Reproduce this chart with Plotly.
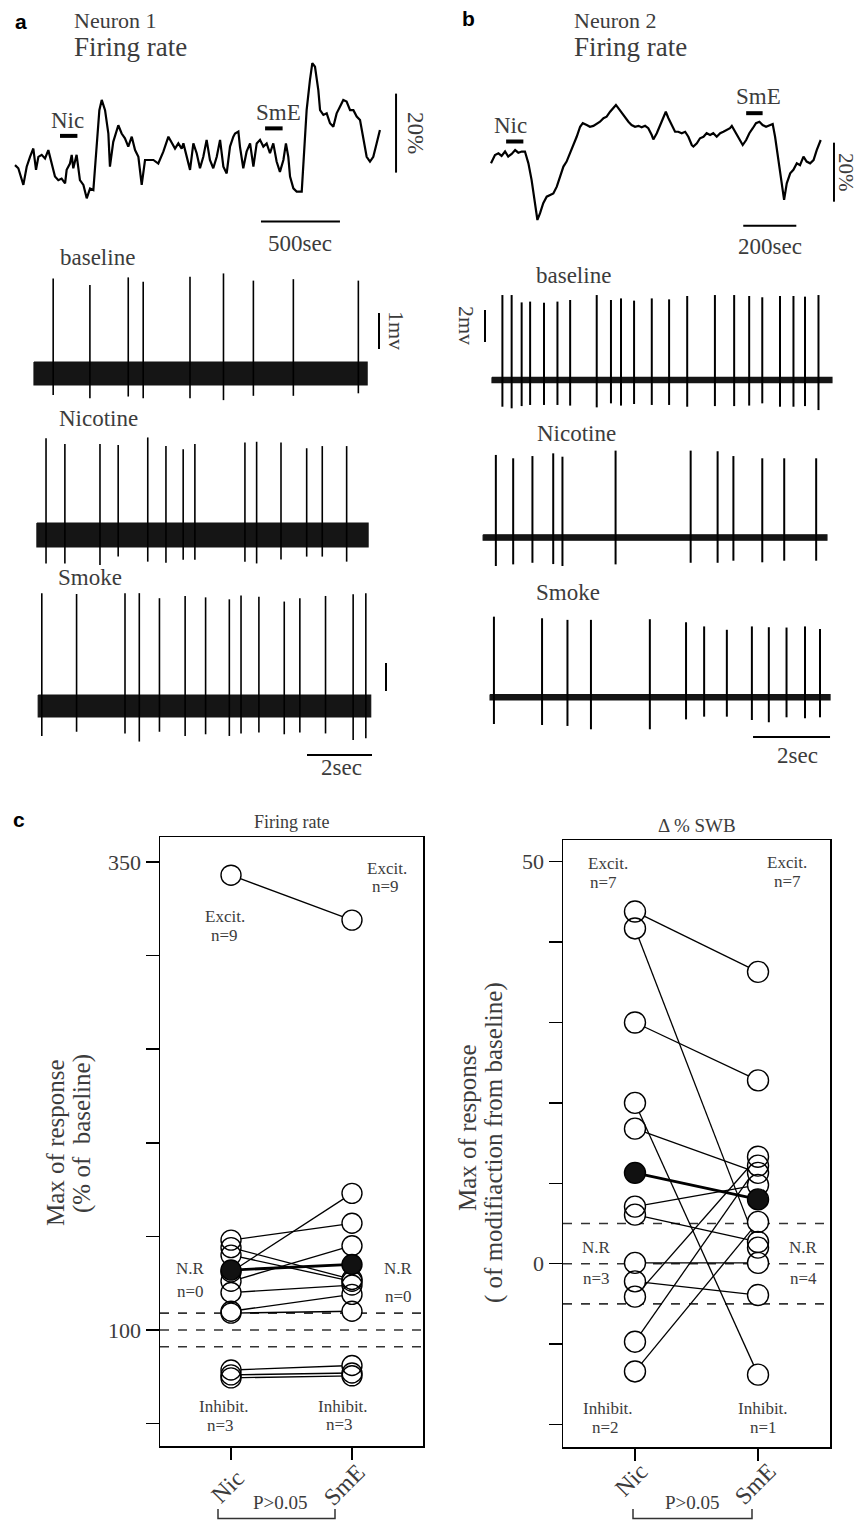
import plotly.graph_objects as go

W, H = 860, 1520
SERIF = "Liberation Serif, Times New Roman, serif"
SANS = "Liberation Sans, Arial, sans-serif"
INK = "#1a1a1a"
GREY = "#3c3c3c"

# ---------------- DATA ----------------
# Panel a: Neuron 1 firing rate (time in s, change in % of baseline)
n1_t = [0, 21, 53, 74, 95, 116, 133, 148, 169, 190,
        211, 232, 253, 274, 295, 317, 327, 348, 359, 369,
        390, 411, 433, 454, 475, 496, 517, 534, 549, 570,
        591, 601, 622, 654, 675, 696, 717, 739, 760, 781,
        802, 823, 844, 876, 907, 939, 971, 992, 1013, 1034,
        1055, 1066, 1087, 1108, 1129, 1150, 1171, 1192, 1213, 1234,
        1255, 1277, 1298, 1319, 1340, 1361, 1382, 1393, 1414, 1424,
        1445, 1466, 1488, 1509, 1530, 1551, 1572, 1593, 1614, 1635,
        1656, 1677, 1699, 1715, 1730, 1741, 1762, 1783, 1815, 1825,
        1846, 1867, 1882, 1899, 1920, 1931, 1952, 1973, 1994, 2015,
        2026, 2036, 2057, 2078, 2099, 2121, 2142, 2163, 2184, 2205,
        2226, 2247, 2268, 2289, 2310]
n1_v = [0.4, -0.4, -4.6, 0, 2.5, 4.6, -0.8, 2.5, 3.0, 2.1,
        4.2, 0.8, -2.5, -3.4, -3.0, -4.2, -0.8, 0.8, 3.0, -0.4,
        3.0, -3.4, -4.6, -8.0, -5.5, -5.9, 5.9, 14.3, 16.9, 14.3,
        8.4, 0, 6.3, 10.5, 8.4, 7.2, 5.1, 7.6, 4.2, 2.5,
        -4.6, 1.7, 1.7, 1.7, 0.8, 3.8, 7.6, 5.9, 4.6, 5.9,
        4.6, 5.9, 2.5, -0.8, 5.9, 3.4, -0.4, 2.5, 6.8, 1.7,
        -0.4, 2.5, 6.8, 0, -1.7, 5.1, 7.6, 8.4, 8.9, 5.1,
        -0.4, 3.8, 5.9, 0, 5.9, 6.8, 5.1, 5.9, 3.4, 5.9,
        1.3, -1.3, 1.7, 5.9, 2.5, -2.5, -5.5, -6.3, -6.3, 0,
        14.3, 21.9, 26.2, 25.3, 19.4, 14.3, 13.1, 13.5, 11.0, 10.1,
        12.2, 13.5, 15.2, 16.9, 16.5, 14.3, 14.3, 12.7, 11.8, 6.8,
        2.5, 1.3, 2.5, 5.9, 9.3]
n1_stim = {"Nic": (285, 395), "SmE": (1583, 1694)}

# Panel b: Neuron 2 firing rate
n2_t = [0, 15, 28, 40, 53, 65, 78, 91, 103, 116,
        128, 141, 153, 166, 175, 185, 197, 210, 222, 235,
        248, 260, 273, 285, 298, 310, 323, 336, 346, 361,
        373, 386, 398, 411, 424, 436, 449, 461, 471, 480,
        493, 505, 518, 530, 543, 556, 568, 581, 593, 606,
        612, 625, 637, 650, 659, 669, 681, 694, 706, 719,
        732, 744, 757, 763, 776, 788, 801, 813, 826, 838,
        851, 864, 876, 889, 901, 908, 920, 933, 949, 962,
        974, 987, 999, 1012, 1024, 1037, 1050, 1062, 1071, 1084,
        1096, 1105, 1115, 1128, 1140, 1153, 1165, 1178, 1190, 1203,
        1216, 1228, 1243]
n2_v = [-3.4, -0.6, 0, -0.9, 0.6, -1.1, -0.2, 1.1, 0.2, 0.6,
        0.6, -3.4, -9.0, -16.9, -22.6, -20.3, -16.9, -14.7, -14.1, -13.6,
        -11.3, -7.9, -4.5, -2.8, 0, 2.3, 5.6, 9.0, 10.2, 9.6,
        9.0, 9.3, 9.9, 10.7, 11.9, 12.4, 14.1, 15.3, 16.4, 15.3,
        13.6, 12.4, 10.7, 9.6, 9.0, 9.3, 8.8, 9.3, 8.5, 6.2,
        4.7, 6.8, 9.6, 12.4, 14.1, 11.9, 9.6, 7.3, 7.3, 6.8,
        7.3, 5.6, 2.8, 2.3, 3.4, 5.1, 5.6, 6.8, 6.2, 6.8,
        5.6, 6.8, 7.3, 7.9, 8.5, 9.3, 7.3, 5.1, 2.8, 4.5,
        6.8, 8.5, 10.2, 10.7, 9.6, 9.0, 9.6, 9.9, 5.6, -2.3,
        -11.3, -15.8, -10.2, -6.8, -5.6, -3.4, -4.0, -1.1, -2.8, -3.4,
        -2.3, 1.1, 4.5]
n2_stim = {"Nic": (57, 122), "SmE": (962, 1024)}

# Unit traces: spike times (s), spike peak (mV), spike trough (mV)
a_base_t = [0.59, 1.72, 2.90, 3.36, 4.80, 5.83, 6.75, 7.98, 9.98]
a_base_up = [2.64, 2.46, 2.67, 2.55, 2.69, 2.78, 2.58, 2.62, 2.58]
a_base_dn = [-0.60, -0.69, -0.64, -0.69, -0.69, -0.74, -0.62, -0.62, -0.55]

a_nic_t = [0.37, 0.95, 2.03, 2.59, 3.50, 4.06, 4.59, 4.95, 6.49, 6.85, 7.60, 8.39, 8.87, 9.62]
a_nic_up = [2.69, 2.53, 2.53, 2.50, 2.71, 2.47, 2.38, 2.53, 2.57, 2.59, 2.57, 2.41, 2.47, 2.47]
a_nic_dn = [-0.79, -0.79, -0.83, -0.60, -0.74, -0.77, -0.69, -0.69, -0.74, -0.79, -0.68, -0.60, -0.60, -0.74]

a_smk_t = [0.24, 1.31, 2.80, 3.24, 3.86, 4.65, 5.28, 6.01, 6.37, 6.92, 7.70, 8.18, 8.97, 9.82, 10.21]
a_smk_up = [4.03, 4.00, 4.03, 4.03, 3.85, 3.93, 3.88, 3.81, 3.95, 3.90, 3.73, 3.85, 3.93, 3.99, 4.03]
a_smk_dn = [-1.07, -0.92, -0.98, -1.27, -0.92, -1.07, -1.01, -1.07, -0.98, -0.95, -1.01, -0.95, -0.98, -1.21, -1.15]

b_base_t = [0.27, 0.51, 0.77, 0.99, 1.35, 1.70, 2.03, 2.72, 3.09, 3.35, 3.69, 4.15, 4.60, 5.07,
            5.79, 6.29, 6.68, 7.02, 7.48, 7.83, 8.13, 8.48]
b_base_up = [5.31, 5.31, 4.85, 4.90, 4.83, 4.90, 5.00, 5.31, 5.00, 5.10, 4.96, 5.10, 5.04, 5.25,
             5.31, 5.31, 5.25, 5.17, 5.25, 5.25, 5.21, 5.31]
b_base_dn = [-1.67, -1.77, -1.63, -1.56, -1.56, -1.56, -1.60, -1.71, -1.46, -1.60, -1.50, -1.56, -1.56, -1.67,
             -1.63, -1.63, -1.60, -1.46, -1.67, -1.67, -1.63, -1.88]

b_nic_t = [0.10, 0.55, 1.05, 1.59, 1.83, 3.21, 5.16, 5.86, 6.27, 7.02, 7.59, 8.42]
b_nic_up = [5.16, 4.95, 5.09, 5.26, 5.05, 5.43, 5.43, 5.39, 5.09, 4.95, 4.95, 4.95]
b_nic_dn = [-1.78, -1.68, -1.58, -1.66, -1.78, -1.68, -1.58, -1.58, -1.45, -1.55, -1.45, -1.45]

b_smk_t = [0.05, 1.30, 1.96, 2.57, 4.10, 5.04, 5.51, 6.10, 6.75, 7.19, 7.65, 8.13, 8.52]
b_smk_up = [5.04, 4.94, 4.84, 4.84, 4.88, 4.69, 4.43, 4.22, 4.43, 4.38, 4.36, 4.43, 4.27]
b_smk_dn = [-1.67, -1.73, -1.79, -2.00, -2.00, -1.38, -1.21, -1.21, -1.42, -1.56, -1.25, -1.31, -1.25]

# recording windows (s) and noise half-amplitude (mV)
a_windows = [(0.0, 10.25), (0.09, 10.28), (0.13, 10.36)]
a_noise = [0.32, 0.33, 0.39]
b_windows = [(0.0, 8.83), (-0.23, 8.70), (-0.05, 8.78)]
b_noise = [0.17, 0.17, 0.17]

# Panel c: max of response, firing rate (% of baseline)
fr_nic = [343, 148, 144, 140, 131, 126, 120, 110, 109, 78.6, 76, 74.4]
fr_sme = [319, 157, 127, 126, 173, 145, 124, 119, 110, 81, 77, 75.5]
fr_mean = [132, 135]
fr_thresh = [91, 100, 109]

# Panel c: max of response, delta % SWB
swb_nic = [43.8, 41.7, 30.0, 20.0, 16.8, 7.1, 6.1, 0.1, -2.2, -4.1, -9.7, -13.4]
swb_sme = [36.3, 2.0, 22.8, -13.8, 11.3, 9.8, 2.7, 0.1, -3.9, 13.3, 12.2, 5.2]
swb_mean = [11.3, 8.0]
swb_thresh = [-5, 0, 5]

conditions = ["Nic", "SmE"]

# ---------------- FIGURE ----------------
fig = go.Figure()
layout = {}


def axname(n):
    return "" if n == 1 else str(n)


def setup_axes(n, xp, yp, xmap, ymap):
    px0, v0, k = xmap
    py0, w0, m = ymap
    xr = [v0 + (xp[0] - px0) / k, v0 + (xp[1] - px0) / k]
    yr = [w0 - (yp[1] - py0) / m, w0 + (py0 - yp[0]) / m]
    layout["xaxis" + axname(n)] = dict(domain=[xp[0] / W, xp[1] / W], range=xr,
                                       visible=False, anchor="y" + axname(n))
    layout["yaxis" + axname(n)] = dict(domain=[1 - yp[1] / H, 1 - yp[0] / H], range=yr,
                                       visible=False, anchor="x" + axname(n))


def refs(n):
    return "x" + axname(n), "y" + axname(n)


shapes = []
annos = []


def txt(s, px, py, size, color=INK, angle=0, family=SERIF, xanchor="center", bold=False):
    if bold:
        s = "<b>" + s + "</b>"
    annos.append(dict(text=s, x=px / W, y=1 - py / H, xref="paper", yref="paper",
                      showarrow=False, font=dict(size=size, color=color, family=family),
                      textangle=angle, xanchor=xanchor, yanchor="middle", borderpad=0))


def seg(n, x0, y0, x1, y1, width=2, color="black", dash=None):
    xr, yr = refs(n)
    ln = dict(color=color, width=width)
    if dash:
        ln["dash"] = dash
    shapes.append(dict(type="line", xref=xr, yref=yr, x0=x0, y0=y0, x1=x1, y1=y1, line=ln))


# --- firing-rate traces ---
setup_axes(1, (0, 430), (50, 262), (15, 0, 1 / 6.33), (166.7, 0, 3.95))
setup_axes(2, (430, 860), (50, 262), (491, 0, 1 / 3.77), (153.3, 0, 2.95))
for n, t, v in [(1, n1_t, n1_v), (2, n2_t, n2_v)]:
    xr, yr = refs(n)
    fig.add_trace(go.Scatter(x=t, y=v, mode="lines", line=dict(color="black", width=2.2),
                             xaxis=xr, yaxis=yr, hoverinfo="skip"))

# stimulus bars
stim_y1 = {"Nic": 7.8, "SmE": 9.7}
stim_y2 = {"Nic": 4.0, "SmE": 13.6}
for k, (t0, t1) in n1_stim.items():
    seg(1, t0, stim_y1[k], t1, stim_y1[k], width=4)
for k, (t0, t1) in n2_stim.items():
    seg(2, t0, stim_y2[k], t1, stim_y2[k], width=4)

SCALE_PCT = 20
SCALE_T1, SCALE_T2 = 500, 200
# scale bars (rate)
seg(1, 2412, -1.5, 2412, -1.5 + SCALE_PCT, width=2)
seg(1, 1557, -13.9, 1557 + SCALE_T1, -13.9, width=2)
seg(2, 1293, -16.4, 1293, -16.4 + SCALE_PCT, width=2)
seg(2, 951, -24.6, 951 + SCALE_T2, -24.6, width=2)

# --- unit traces ---
setup_axes(3, (0, 430), (262, 410), (34, 0, 32.5), (373.5, 0, 36))
setup_axes(4, (0, 430), (410, 570), (34, 0, 32.5), (535, 0, 36))
setup_axes(5, (0, 430), (570, 780), (34, 0, 32.5), (706, 0, 28))
setup_axes(6, (430, 860), (262, 420), (492, 0, 38.5), (380, 0, 16))
setup_axes(7, (430, 860), (420, 580), (492, 0, 38.5), (537.5, 0, 16))
setup_axes(8, (430, 860), (580, 780), (492, 0, 38.5), (697.3, 0, 16))

units = [
    (3, a_base_t, a_base_up, a_base_dn, a_windows[0], a_noise[0], 1.6),
    (4, a_nic_t, a_nic_up, a_nic_dn, a_windows[1], a_noise[1], 1.6),
    (5, a_smk_t, a_smk_up, a_smk_dn, a_windows[2], a_noise[2], 1.6),
    (6, b_base_t, b_base_up, b_base_dn, b_windows[0], b_noise[0], 2.0),
    (7, b_nic_t, b_nic_up, b_nic_dn, b_windows[1], b_noise[1], 2.0),
    (8, b_smk_t, b_smk_up, b_smk_dn, b_windows[2], b_noise[2], 2.0),
]
for n, ts, ups, dns, (w0, w1), nz, lw in units:
    xr, yr = refs(n)
    fig.add_trace(go.Scatter(x=[w0, w1, w1, w0, w0], y=[nz, nz, -nz, -nz, nz], mode="lines",
                             fill="toself", fillcolor="#151515",
                             line=dict(color="#151515", width=1.2),
                             xaxis=xr, yaxis=yr, hoverinfo="skip"))
    xs, ys = [], []
    for t, u, d in zip(ts, ups, dns):
        xs += [t, t, None]
        ys += [d, u, None]
    fig.add_trace(go.Scatter(x=xs, y=ys, mode="lines", line=dict(color="black", width=lw),
                             xaxis=xr, yaxis=yr, hoverinfo="skip"))

SCALE_MV_A, SCALE_MV_B, SCALE_SEC = 1, 2, 2
seg(3, 10.615, 0.68, 10.615, 0.68 + SCALE_MV_A, width=2)
seg(5, 10.83, 0.536, 10.83, 0.536 + SCALE_MV_A, width=2)
seg(5, 8.4, -1.75, 8.4 + SCALE_SEC, -1.75, width=2)
seg(6, -0.182, 2.375, -0.182, 2.375 + SCALE_MV_B, width=2)
seg(8, 6.78, -2.48, 6.78 + SCALE_SEC, -2.48, width=2)

# --- panel c ---
def c_axes(n, xp, yp, xr, yr, tickvals, ticktext):
    layout["xaxis" + axname(n)] = dict(
        domain=[xp[0] / W, xp[1] / W], range=xr, anchor="y" + axname(n),
        tickvals=[1, 2], showticklabels=False,
        ticks="outside", ticklen=12, tickwidth=1.5, tickcolor="black",
        showline=True, linecolor="black", linewidth=1.5, mirror=True,
        showgrid=False, zeroline=False)
    layout["yaxis" + axname(n)] = dict(
        domain=[1 - yp[1] / H, 1 - yp[0] / H], range=yr, anchor="x" + axname(n),
        tickvals=tickvals, ticktext=ticktext,
        ticks="outside", ticklen=13, tickwidth=1.5, tickcolor="black",
        showline=True, linecolor="black", linewidth=1.5, mirror=True,
        showgrid=False, zeroline=False,
        tickfont=dict(family=SERIF, size=22, color=GREY))


c_axes(9, (160, 423), (837, 1446), [0.413, 2.587], [38, 363.4],
       [50, 100, 150, 200, 250, 300, 350], ["", "100", "", "", "", "", "350"])
c_axes(10, (563, 830), (840, 1447), [0.415, 2.585], [-22.8, 52.7],
       [-20, -10, 0, 10, 20, 30, 40, 50], ["", "", "0", "", "", "", "", "50"])

for n, thr in [(9, fr_thresh), (10, swb_thresh)]:
    for v in thr:
        shapes.append(dict(type="line", xref="x" + axname(n) + " domain", yref="y" + axname(n),
                           x0=0, x1=1, y0=v, y1=v, line=dict(color="#333", width=1.6, dash="dash"),
                           layer="below"))


def pairs(n, nic, sme, mean, msize):
    xr, yr = refs(n)
    xs, ys = [], []
    for a, b in zip(nic, sme):
        xs += [1, 2, None]
        ys += [a, b, None]
    fig.add_trace(go.Scatter(x=xs, y=ys, mode="lines", line=dict(color="black", width=1.3),
                             xaxis=xr, yaxis=yr, hoverinfo="skip"))
    fig.add_trace(go.Scatter(x=[1, 2], y=mean, mode="lines", line=dict(color="black", width=2.8),
                             xaxis=xr, yaxis=yr, hoverinfo="skip"))
    px = [1] * len(nic) + [2] * len(sme)
    py = list(nic) + list(sme)
    fig.add_trace(go.Scatter(x=px, y=py, mode="markers",
                             marker=dict(size=msize, color="white", line=dict(width=0)),
                             xaxis=xr, yaxis=yr, hoverinfo="skip"))
    fig.add_trace(go.Scatter(x=px, y=py, mode="markers",
                             marker=dict(size=msize, color="rgba(0,0,0,0)",
                                         line=dict(width=1.4, color="black")),
                             xaxis=xr, yaxis=yr, hoverinfo="skip"))
    fig.add_trace(go.Scatter(x=[1, 2], y=mean, mode="markers",
                             marker=dict(size=msize, color="#111", line=dict(width=1.4, color="black")),
                             xaxis=xr, yaxis=yr, hoverinfo="skip"))


pairs(9, fr_nic, fr_sme, fr_mean, 20)
pairs(10, swb_nic, swb_sme, swb_mean, 21)

# brackets for P>0.05
for x0, x1 in [(218, 335), (633, 752)]:
    shapes.append(dict(type="path", xref="paper", yref="paper",
                       path=f"M {x0/W},{1-1509/H} L {x0/W},{1-1518.5/H} L {x1/W},{1-1518.5/H} L {x1/W},{1-1509/H}",
                       line=dict(color="#333", width=1.5)))

# ---------------- TEXT ----------------
txt("a", 21, 22, 21, color="black", family=SANS, bold=True)
txt("b", 469, 19, 21, color="black", family=SANS, bold=True)
txt("c", 19, 819, 21, color="black", family=SANS, bold=True)

txt("Neuron 1", 73, 20, 22, xanchor="left", color=GREY)
txt("Firing rate", 73, 47, 27, xanchor="left", color=GREY)
txt("Neuron 2", 573, 20, 22, xanchor="left", color=GREY)
txt("Firing rate", 573, 47, 27, xanchor="left", color=GREY)

txt("Nic", 67, 120, 23, color=GREY)
txt("SmE", 278, 113, 23, color=GREY)
txt("500sec", 300, 244, 23, color=GREY)
txt("20%", 416, 133, 23, angle=90, color=GREY)
txt("Nic", 510, 125, 23, color=GREY)
txt("SmE", 758, 97, 23, color=GREY)
txt("200sec", 770, 246, 23, color=GREY)
txt("20%", 846, 172, 21, angle=90, color=GREY)

txt("baseline", 97, 257, 23, color=GREY)
txt("Nicotine", 98, 418, 23, color=GREY)
txt("Smoke", 90, 577, 23, color=GREY)
txt("1mv", 396, 330, 22, angle=90, color=GREY)
txt("2sec", 341, 767, 23, color=GREY)
txt("baseline", 573, 275, 23, color=GREY)
txt("Nicotine", 576, 434, 23, color=GREY)
txt("Smoke", 568, 592, 23, color=GREY)
txt("2mv", 466, 325, 22, angle=90, color=GREY)
txt("2sec", 797, 755, 23, color=GREY)

# panel c texts
txt("Firing rate", 291, 822, 18, color=GREY)
txt("\u0394 % SWB", 697, 825, 19, color=GREY)
txt("Max of response", 55, 1143, 25, angle=-90, color=GREY)
txt("(% of  baseline)", 82, 1134, 25, angle=-90, color=GREY)
txt("Max of response", 467, 1128, 25, angle=-90, color=GREY)
txt("( of modifiaction from baseline)", 494, 1143, 25, angle=-90, color=GREY)

# rotated category labels under the two boxes
txt(conditions[0], 228, 1486, 24, angle=-45, color=GREY)
txt(conditions[1], 344, 1485, 24, angle=-45, color=GREY)
txt(conditions[0], 631, 1480, 24, angle=-45, color=GREY)
txt(conditions[1], 755, 1484, 24, angle=-45, color=GREY)

lab = 17
txt("Excit.", 225, 917, lab, color=GREY)
txt("n=9", 224, 935, lab, color=GREY)
txt("Excit.", 387, 868, lab, color=GREY)
txt("n=9", 385, 886, lab, color=GREY)
txt("N.R", 190, 1268, lab, color=GREY)
txt("n=0", 190, 1291, lab, color=GREY)
txt("N.R", 398, 1268, lab, color=GREY)
txt("n=0", 398, 1296, lab, color=GREY)
txt("Inhibit.", 224, 1406, lab, color=GREY)
txt("n=3", 221, 1425, lab, color=GREY)
txt("Inhibit.", 343, 1406, lab, color=GREY)
txt("n=3", 339, 1424, lab, color=GREY)

txt("Excit.", 608, 863, lab, color=GREY)
txt("n=7", 603, 882, lab, color=GREY)
txt("Excit.", 787, 862, lab, color=GREY)
txt("n=7", 787, 881, lab, color=GREY)
txt("N.R", 596, 1247, lab, color=GREY)
txt("n=3", 596, 1278, lab, color=GREY)
txt("N.R", 803, 1247, lab, color=GREY)
txt("n=4", 803, 1278, lab, color=GREY)
txt("Inhibit.", 608, 1408, lab, color=GREY)
txt("n=2", 605, 1427, lab, color=GREY)
txt("Inhibit.", 763, 1408, lab, color=GREY)
txt("n=1", 763, 1427, lab, color=GREY)

txt("P>0.05", 280, 1502, 19, color=GREY)
txt("P>0.05", 692, 1502, 19, color=GREY)

layout.update(dict(width=W, height=H, margin=dict(l=0, r=0, t=0, b=0),
                   paper_bgcolor="white", plot_bgcolor="white", showlegend=False,
                   shapes=shapes, annotations=annos))
fig.update_layout(**layout)
fig.write_html("out.html",
               config={"displayModeBar": False, "staticPlot": True},
               post_script="document.body.style.margin='0';document.body.style.overflow='hidden';")
